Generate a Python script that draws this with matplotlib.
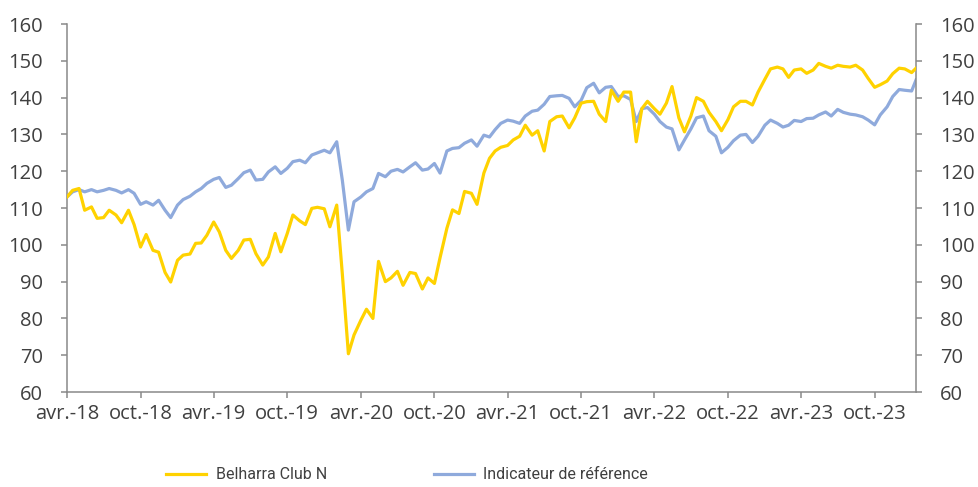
import matplotlib
matplotlib.use('Agg')
import matplotlib.pyplot as plt
import pandas as pd

# semi-monthly readings, Apr 2018 -> Jan 2024
dates = list(pd.date_range('2018-04-01', '2024-01-01', freq='SMS')) + [pd.Timestamp('2024-01-12')]

belharra = [
    113.0, 114.8, 115.3, 109.4, 110.3, 107.2, 107.4, 109.4, 108.1, 106.0,
    109.4, 105.5, 99.4, 102.8, 98.5, 98.0, 92.5, 89.9, 95.8, 97.2,
    97.5, 100.4, 100.5, 102.6, 106.2, 103.5, 98.5, 96.3, 98.5, 101.3,
    101.5, 97.6, 94.5, 96.7, 103.1, 98.1, 103.1, 108.1, 106.5, 105.5,
    109.9, 110.2, 109.8, 104.9, 110.8, 92.0, 70.4, 75.5, 79.5, 82.5,
    80.0, 95.5, 90.0, 91.0, 92.8, 89.0, 92.5, 92.2, 88.0, 91.0,
    89.5, 96.5, 104.5, 109.5, 108.5, 114.5, 114.0, 111.0, 119.5, 123.5,
    125.5, 126.5, 127.0, 128.5, 129.5, 132.5, 129.8, 131.0, 125.5, 133.5,
    134.8, 135.0, 131.8, 134.5, 138.5, 138.9, 139.0, 135.5, 133.5, 142.0,
    139.0, 141.5, 141.5, 128.0, 137.0, 139.0, 137.0, 135.5, 138.5, 143.0,
    134.5, 130.7, 135.0, 140.0, 139.0, 136.0, 133.5, 131.0, 134.0, 137.5,
    139.0, 139.0, 138.0, 141.5, 145.0, 147.8, 148.3, 147.8, 145.5, 147.5,
    147.8, 146.6, 147.5, 149.3, 148.5, 148.0, 148.8, 148.5, 148.3, 148.8,
    147.5, 145.2, 142.8, 143.5, 144.5, 146.5, 148.0, 147.8, 146.8,
    148.0,
]

indicateur = [
    113.0, 114.4, 115.0, 114.4, 115.0, 114.4, 114.8, 115.3, 114.8, 114.1,
    115.0, 114.0, 111.0, 111.7, 110.8, 112.1, 109.4, 107.4, 110.8, 112.3,
    113.2, 114.4, 115.3, 116.7, 117.8, 118.3, 115.6, 116.2, 118.0, 119.6,
    120.3, 117.6, 117.8, 119.8, 121.2, 119.4, 120.8, 122.6, 123.0, 122.3,
    124.4, 125.0, 125.7, 125.0, 128.0, 117.5, 104.0, 111.7, 113.0, 114.4,
    115.3, 119.4, 118.5, 120.0, 120.5, 119.8, 121.2, 122.3, 120.3, 120.6,
    122.1, 119.5, 125.5, 126.2, 126.4, 127.6, 128.5, 126.8, 129.8, 129.3,
    131.3, 133.0, 133.9, 133.6, 133.0, 135.0, 136.3, 136.6, 138.2, 140.3,
    140.5, 140.6, 139.8, 137.5, 139.3, 142.7, 143.9, 141.3, 142.8, 143.0,
    140.3, 140.5, 139.5, 133.5, 137.0, 137.3, 135.5, 133.5, 132.0, 131.5,
    125.8, 128.5, 131.5, 134.5, 135.0, 131.0, 129.5, 125.0, 126.5, 128.3,
    129.8, 130.0, 127.8, 129.5, 132.5, 133.9, 133.0, 132.0, 132.5, 133.8,
    133.5, 134.3, 134.4, 135.3, 136.1, 135.0, 136.8, 136.0, 135.5, 135.3,
    134.8, 133.9, 132.6, 135.3, 137.5, 140.3, 142.2, 142.0, 141.8,
    144.8,
]

tick_dates = pd.date_range('2018-04-01', '2023-10-01', freq='6MS')
tick_labels = ['avr.-18', 'oct.-18', 'avr.-19', 'oct.-19', 'avr.-20', 'oct.-20',
               'avr.-21', 'oct.-21', 'avr.-22', 'oct.-22', 'avr.-23', 'oct.-23']

plt.rcParams['font.family'] = ['Open Sans', 'DejaVu Sans']
txt = '#404040'
grey = '#898989'

fig = plt.figure(figsize=(9.79, 4.87), dpi=100)
ax = fig.add_axes([0.0684, 0.195, 0.8673, 0.7557])

ax.plot(dates, indicateur, color='#8faadc', lw=2.3, label='Indicateur de référence', zorder=2)
ax.plot(dates, belharra, color='#ffd200', lw=2.3, label='Belharra Club N', zorder=3)

ax.set_ylim(60, 160)
ax.set_yticks(range(60, 161, 10))
ax.set_xlim(pd.Timestamp('2018-04-01'), pd.Timestamp('2024-01-12'))
ax.set_xticks(tick_dates)
ax.set_xticklabels(tick_labels)

ax.spines['top'].set_visible(False)
for s in ['left', 'right', 'bottom']:
    ax.spines[s].set_color(grey)
    ax.spines[s].set_linewidth(1.1)
ax.tick_params(axis='both', colors=grey, labelcolor=txt, labelsize=14.5,
               length=4.3, width=1.1, direction='out')
ax.tick_params(axis='y', right=True, labelright=True, pad=13)
ax.tick_params(axis='x', pad=4)

h, l = ax.get_legend_handles_labels()
leg = fig.legend(h[::-1], l[::-1], loc='center left', bbox_to_anchor=(0.1614, 0.025), ncol=2,
                 frameon=False, handlelength=2.5, handletextpad=0.6, borderpad=0,
                 columnspacing=6.7, labelcolor=txt,
                 prop={'family': ['Roboto', 'Open Sans'], 'size': 11.5})

fig.savefig('out.png', dpi=100)
